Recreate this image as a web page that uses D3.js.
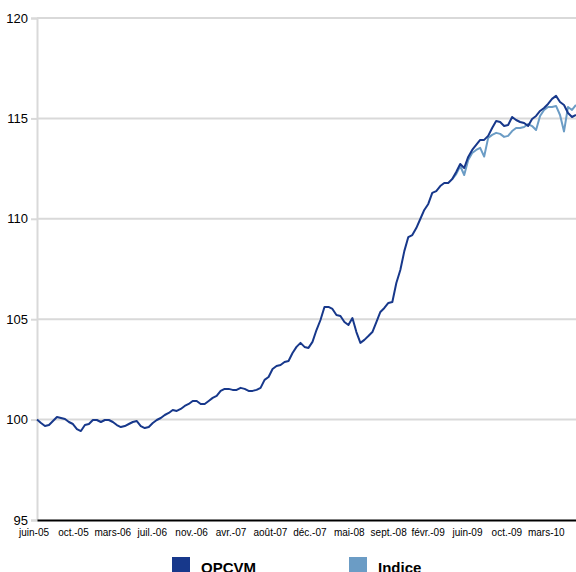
<!DOCTYPE html>
<meta charset="utf-8">
<style>
    body { margin: 0; background: #fff; }
    text { font-family: "Liberation Sans", Arial, sans-serif; }
    .grid line { stroke: #d9d9d9; stroke-width: 2px; }
    .line { fill: none; stroke-width: 2px; stroke-linejoin: round; }
</style>
<title>OPCVM vs Indice</title>
<body>
<script src="https://d3js.org/d3.v7.min.js"></script>
<script>
// weekly-ish points, two weeks apart
const opcvm = [
    100.0, 99.83, 99.68, 99.73, 99.93, 100.13, 100.08, 100.03, 99.88, 99.78,
    99.53, 99.43, 99.73, 99.78, 99.98, 99.98, 99.88, 99.98, 99.98, 99.88,
    99.73, 99.63, 99.68, 99.78, 99.88, 99.93, 99.68, 99.58, 99.63, 99.83,
    99.98, 100.08, 100.23, 100.33, 100.48, 100.43, 100.53, 100.68, 100.78, 100.93,
    100.93, 100.78, 100.78, 100.93, 101.08, 101.18, 101.43, 101.53, 101.53, 101.48,
    101.48, 101.58, 101.53, 101.43, 101.43, 101.48, 101.58, 101.98, 102.12, 102.52,
    102.67, 102.72, 102.87, 102.92, 103.32, 103.62, 103.82, 103.62, 103.57, 103.87,
    104.46, 104.96, 105.61, 105.61, 105.51, 105.21, 105.16, 104.86, 104.71, 105.06,
    104.36, 103.82, 103.97, 104.16, 104.36, 104.86, 105.36, 105.56, 105.81, 105.86,
    106.80, 107.45, 108.39, 109.09, 109.19, 109.54, 109.99, 110.44, 110.74, 111.29,
    111.38, 111.63, 111.78, 111.78, 111.98, 112.33, 112.73, 112.53, 113.08, 113.43,
    113.68, 113.93, 113.93, 114.13, 114.52, 114.87, 114.82, 114.62, 114.67, 115.07,
    114.92, 114.82, 114.77, 114.62, 114.97, 115.12, 115.37, 115.52, 115.72, 115.97,
    116.12, 115.82, 115.67, 115.27, 115.07, 115.17
];

// index only drawn where it parts from the fund (hidden under it before)
const indiceStart = 104;
const indice = [
    111.98, 112.23, 112.63, 112.18, 112.93, 113.28, 113.43, 113.53, 113.10, 114.03,
    114.18, 114.28, 114.23, 114.08, 114.13, 114.37, 114.52, 114.52, 114.57, 114.72,
    114.62, 114.42, 115.12, 115.42, 115.57, 115.57, 115.62, 115.17, 114.35, 115.57,
    115.42, 115.67
];

const tickLabels = ['juin-05','oct.-05','mars-06','juil.-06','nov.-06','avr.-07','août-07',
    'déc.-07','mai-08','sept.-08','févr.-09','juin-09','oct.-09','mars-10'];
const labelStep = 9.87;   // points between two date labels

const yTicks = [95, 100, 105, 110, 115, 120];

const series = [
    { name: 'OPCVM', color: '#17388b' },
    { name: 'Indice', color: '#6b9cc5' }
];

var width = 576, height = 572;
const margin = { top: 18, right: 0, bottom: 52, left: 37 };

let svg = d3.select('body').append('svg')
    .attr('width', width)
    .attr('height', height);

let x = d3.scaleLinear()
    .domain([0, opcvm.length - 1])
    .range([margin.left, width - margin.right]);

let y = d3.scaleLinear()
    .domain([95, 120])
    .range([height - margin.bottom, margin.top]);

// horizontal grid
svg.append('g')
    .attr('class', 'grid')
    .selectAll('line')
    .data(yTicks.filter(d => d > 95))
    .enter().append('line')
    .attr('x1', margin.left)
    .attr('x2', width)
    .attr('y1', d => y(d))
    .attr('y2', d => y(d));

// y axis
let yAxis = svg.append('g')
    .attr('transform', `translate(${margin.left},0)`)
    .call(d3.axisLeft(y).tickValues(yTicks).tickSize(6).tickPadding(3));
yAxis.select('.domain').attr('stroke', '#d9d9d9').attr('stroke-width', 2);
yAxis.selectAll('.tick line').attr('stroke', '#d9d9d9').attr('stroke-width', 2);
yAxis.selectAll('text').attr('font-size', 13).attr('fill', '#000')
    .style('font-family', '"Liberation Sans", Arial, sans-serif');

// x axis
let xAxis = svg.append('g')
    .attr('transform', `translate(0,${y(95)})`)
    .call(d3.axisBottom(x)
        .tickValues(tickLabels.map((d, i) => i * labelStep))
        .tickFormat((d, i) => tickLabels[i])
        .tickSize(0).tickPadding(9));
xAxis.select('.domain').attr('stroke', '#000').attr('stroke-width', 2);
xAxis.selectAll('text').attr('font-size', 10).attr('fill', '#000').attr('dx', -3.5)
    .style('font-family', '"Liberation Sans", Arial, sans-serif');

let line = d3.line()
    .x(d => x(d.i))
    .y(d => y(d.v));

svg.append('path')
    .datum(indice.map((v, j) => ({ i: indiceStart + j, v: v })))
    .attr('class', 'line')
    .attr('stroke', series[1].color)
    .attr('d', line);

svg.append('path')
    .datum(opcvm.map((v, i) => ({ i: i, v: v })))
    .attr('class', 'line')
    .attr('stroke', series[0].color)
    .attr('d', line);

// legend
let legend = svg.append('g')
    .selectAll('g')
    .data(series)
    .enter().append('g')
    .attr('transform', (d, i) => `translate(${172 + i * 177},557)`);

legend.append('rect')
    .attr('width', 18)
    .attr('height', 18)
    .attr('fill', d => d.color);

legend.append('text')
    .attr('x', 29)
    .attr('y', 16)
    .attr('font-size', 15)
    .attr('font-weight', 'bold')
    .text(d => d.name);
</script>
</body>
